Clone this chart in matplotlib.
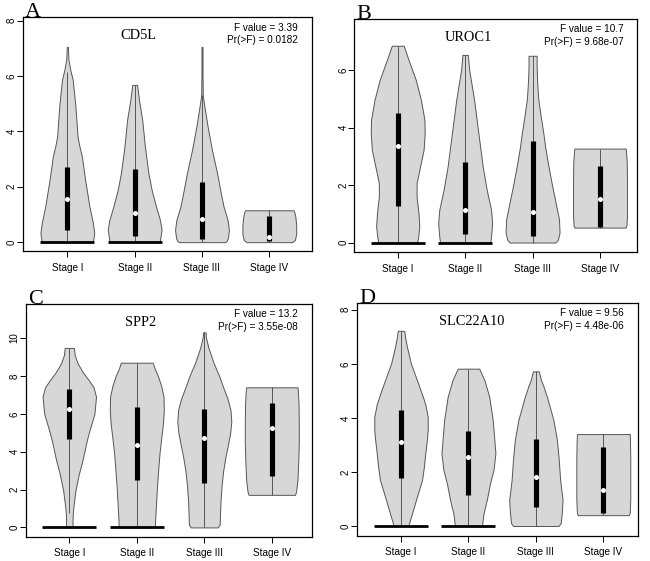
import numpy as np
import matplotlib.pyplot as plt

# ============================================================
#                         data
# ============================================================
stages = ["Stage I", "Stage II", "Stage III", "Stage IV"]
genes = ["CD5L", "UROC1", "SPP2", "SLC22A10"]
letters = ["A", "B", "C", "D"]
f_values = ["3.39", "10.7", "13.2", "9.56"]
p_values = ["0.0182", "9.68e-07", "3.55e-08", "4.48e-06"]

# violin outlines: expression levels (y) and relative half width (w), per stage
cd5l_y = [
    [0, 0.08, 0.32, 0.69, 1.29, 2.25, 3.09, 3.5, 3.81, 4.9, 5.86, 6.22, 6.6, 7.05],
    [0, 0.2, 0.44, 0.8, 1.29, 1.89, 2.49, 3.45, 4.42, 5.14, 5.68],
    [0, 0.05, 0.14, 0.44, 0.8, 1.29, 1.77, 2.49, 3.33, 4.17, 4.9, 5.3, 6.0, 7.05],
    [0, 0.08, 0.3, 0.6, 0.9, 1.08, 1.15],
]
cd5l_w = [
    [0.95, 0.96, 1.0, 0.95, 0.82, 0.66, 0.54, 0.44, 0.38, 0.3, 0.2, 0.11, 0.04, 0.02],
    [0.93, 0.96, 1.0, 0.94, 0.79, 0.63, 0.51, 0.38, 0.28, 0.16, 0.09],
    [0.86, 0.92, 0.96, 1.0, 0.95, 0.8, 0.7, 0.56, 0.37, 0.21, 0.09, 0.03, 0.02, 0.02],
    [0.85, 0.95, 1.0, 1.0, 0.97, 0.93, 0.9],
]
# whisker low, Q1, median, Q3, whisker high
cd5l_box = [[0, 0.45, 1.56, 2.73, 6.15], [0, 0.22, 1.07, 2.65, 5.68],
            [0, 0.1, 0.85, 2.18, 5.3], [0, 0.05, 0.2, 0.93, 1.15]]

uroc1_y = [
    [0, 0.21, 0.56, 1.02, 1.6, 2.07, 2.65, 3.23, 3.81, 4.27, 4.97, 5.66, 6.36, 6.85],
    [0, 0.21, 0.68, 1.14, 1.83, 2.65, 3.81, 4.97, 6.01, 6.53],
    [0, 0.1, 0.35, 0.8, 1.5, 2.0, 2.65, 3.3, 3.8, 4.4, 5.0, 5.6, 6.1, 6.5],
    [0.52, 0.6, 0.9, 1.5, 2.2, 2.8, 3.1, 3.27],
]
uroc1_w = [
    [0.72, 0.76, 0.8, 0.77, 0.7, 0.7, 0.83, 0.96, 1.0, 0.99, 0.86, 0.67, 0.4, 0.22],
    [0.93, 0.96, 1.0, 0.96, 0.8, 0.65, 0.49, 0.33, 0.15, 0.1],
    [0.85, 0.94, 1.0, 0.98, 0.83, 0.72, 0.59, 0.47, 0.4, 0.3, 0.21, 0.17, 0.15, 0.15],
    [0.95, 0.98, 1.0, 1.0, 1.0, 0.99, 0.97, 0.95],
]
uroc1_box = [[0, 1.28, 3.37, 4.52, 6.85], [0, 0.3, 1.13, 2.8, 6.53],
             [0, 0.22, 1.08, 3.55, 6.5], [0.52, 0.55, 1.5, 2.67, 3.27]]

spp2_y = [
    [0, 0.39, 0.75, 1.2, 1.97, 2.8, 3.56, 4.61, 5.14, 6.0, 6.9, 7.4, 7.78, 8.2, 8.66, 9.1, 9.48],
    [0, 0.4, 1.2, 2.2, 3.0, 3.9, 4.8, 5.5, 6.2, 6.9, 7.5, 8.0, 8.4, 8.7],
    [0, 0.15, 0.6, 1.4, 2.2, 3.0, 3.7, 4.4, 5.0, 5.6, 6.2, 6.8, 7.4, 8.0, 8.7, 9.5, 10.05, 10.3],
    [1.72, 1.9, 2.5, 3.5, 4.5, 5.5, 6.5, 7.1, 7.4],
]
spp2_w = [
    [0.12, 0.12, 0.13, 0.16, 0.23, 0.35, 0.49, 0.65, 0.75, 0.93, 0.99, 0.9, 0.72, 0.5, 0.31, 0.2, 0.17],
    [0.67, 0.68, 0.71, 0.75, 0.79, 0.84, 0.91, 0.97, 1.0, 0.99, 0.9, 0.78, 0.66, 0.59],
    [0.5, 0.57, 0.58, 0.6, 0.64, 0.7, 0.78, 0.88, 0.96, 1.0, 0.97, 0.86, 0.7, 0.55, 0.34, 0.15, 0.06, 0.05],
    [0.86, 0.9, 0.95, 0.98, 1.0, 1.0, 0.99, 0.97, 0.95],
]
spp2_box = [[0.75, 4.68, 6.28, 7.33, 9.48], [0, 2.52, 4.35, 6.35, 8.7],
            [0, 2.35, 4.73, 6.25, 10.3], [1.72, 2.72, 5.25, 6.58, 7.4]]

slc22a10_y = [
    [0, 0.1, 0.47, 1.08, 1.7, 2.2, 2.69, 3.2, 3.55, 4.04, 4.5, 4.78, 5.4, 6.0, 6.63, 7.0, 7.22],
    [0, 0.47, 0.96, 1.58, 2.08, 2.69, 3.18, 3.92, 4.78, 5.4, 5.82],
    [0, 0.1, 0.47, 0.96, 1.7, 2.56, 3.18, 3.92, 4.78, 5.2, 5.4, 5.72],
    [0.4, 0.5, 1.0, 1.8, 2.5, 3.1, 3.4],
]
slc22a10_w = [
    [0.28, 0.3, 0.41, 0.59, 0.78, 0.85, 0.9, 0.96, 0.99, 0.99, 0.9, 0.81, 0.59, 0.37, 0.22, 0.15, 0.12],
    [0.5, 0.56, 0.68, 0.8, 0.93, 1.0, 0.96, 0.9, 0.77, 0.59, 0.4],
    [0.84, 0.92, 0.96, 0.99, 0.9, 0.84, 0.78, 0.65, 0.41, 0.27, 0.19, 0.11],
    [0.95, 0.98, 1.0, 1.0, 1.0, 0.99, 0.98],
]
slc22a10_box = [[0, 1.77, 3.1, 4.28, 7.22], [0, 1.15, 2.55, 3.52, 5.82],
                [0, 0.7, 1.82, 3.2, 5.72], [0.4, 0.47, 1.33, 2.93, 3.4]]

# many samples sitting at zero (drawn as a flat black spike)
zero_spike = [True, True, False, False]

panel_y = [cd5l_y, uroc1_y, spp2_y, slc22a10_y]
panel_w = [cd5l_w, uroc1_w, spp2_w, slc22a10_w]
panel_box = [cd5l_box, uroc1_box, spp2_box, slc22a10_box]
panel_ylim = [(-0.32, 8.13), (-0.34, 7.78), (-0.49, 11.8), (-0.36, 8.26)]
panel_xlim = [(0.337, 4.634), (0.356, 4.553), (0.354, 4.60), (0.343, 4.51)]
panel_yticks = [[0, 2, 4, 6, 8], [0, 2, 4, 6], [0, 2, 4, 6, 8, 10], [0, 2, 4, 6, 8]]

# axes boxes in pixels: left, right, top, bottom
panel_px = [
    (22.7, 312.0, 17.0, 251.0),
    (354.3, 637.3, 19.0, 252.3),
    (25.7, 312.3, 304.0, 536.7),
    (356.7, 637.7, 302.7, 535.7),
]

SANS = "Liberation Sans"
SERIF = "Liberation Serif"
HALF = 0.4
W, H = 650, 561


# ------------------------------------------------------------
def draw_violin(ax, pos, ys, ws, box, spike):
    ys = np.array(ys)
    ws = np.array(ws) * HALF
    ax.fill_betweenx(ys, pos - ws, pos + ws, facecolor="#d7d7d7",
                     edgecolor="#555555", linewidth=0.7, zorder=1)
    lo, q1, med, q3, hi = box
    ax.vlines(pos, lo, hi, color="#555555", linewidth=0.7, zorder=2)
    if spike:
        ax.hlines(0, pos - HALF, pos + HALF, color="black", linewidth=2.0, zorder=3)
    ax.vlines(pos, q1, q3, color="black", linewidth=3.7, zorder=4)
    ax.plot(pos, med, "o", color="white", markersize=3.6, markeredgewidth=0, zorder=5)


fig = plt.figure(figsize=(6.5, 5.61), dpi=100)

for i in range(4):
    l, r, t, b = panel_px[i]
    ax = fig.add_axes([l / W, (H - b) / H, (r - l) / W, (b - t) / H])
    for j in range(4):
        draw_violin(ax, j + 1, panel_y[i][j], panel_w[i][j], panel_box[i][j], zero_spike[j])

    ax.set_xlim(*panel_xlim[i])
    ax.set_ylim(*panel_ylim[i])
    ax.set_xticks([1, 2, 3, 4])
    ax.set_xticklabels(stages, fontsize=7.2, family=SANS)
    ax.set_yticks(panel_yticks[i])
    ax.set_yticklabels([str(v) for v in panel_yticks[i]], fontsize=7.0,
                       family=SANS, rotation=90, va="center")
    ax.tick_params(axis="x", length=4.3, width=0.7, pad=4.0)
    ax.tick_params(axis="y", length=4.3, width=0.7, pad=0.0)
    for s in ax.spines.values():
        s.set_linewidth(0.9)

    ax.text(2.05, 0.92, genes[i], transform=ax.get_xaxis_transform(),
            ha="center", va="center", fontsize=10.4, family=SERIF)
    ax.text(0.95, 0.955, "F value = " + f_values[i], transform=ax.transAxes,
            ha="right", va="center", fontsize=7.2, family=SANS)
    ax.text(0.95, 0.90, "Pr(>F) = " + p_values[i], transform=ax.transAxes,
            ha="right", va="center", fontsize=7.2, family=SANS)
    ax.text(0.008, 1.0, letters[i], transform=ax.transAxes,
            ha="left", va="baseline", fontsize=16, family=SERIF)

fig.savefig("out.png", dpi=100)
